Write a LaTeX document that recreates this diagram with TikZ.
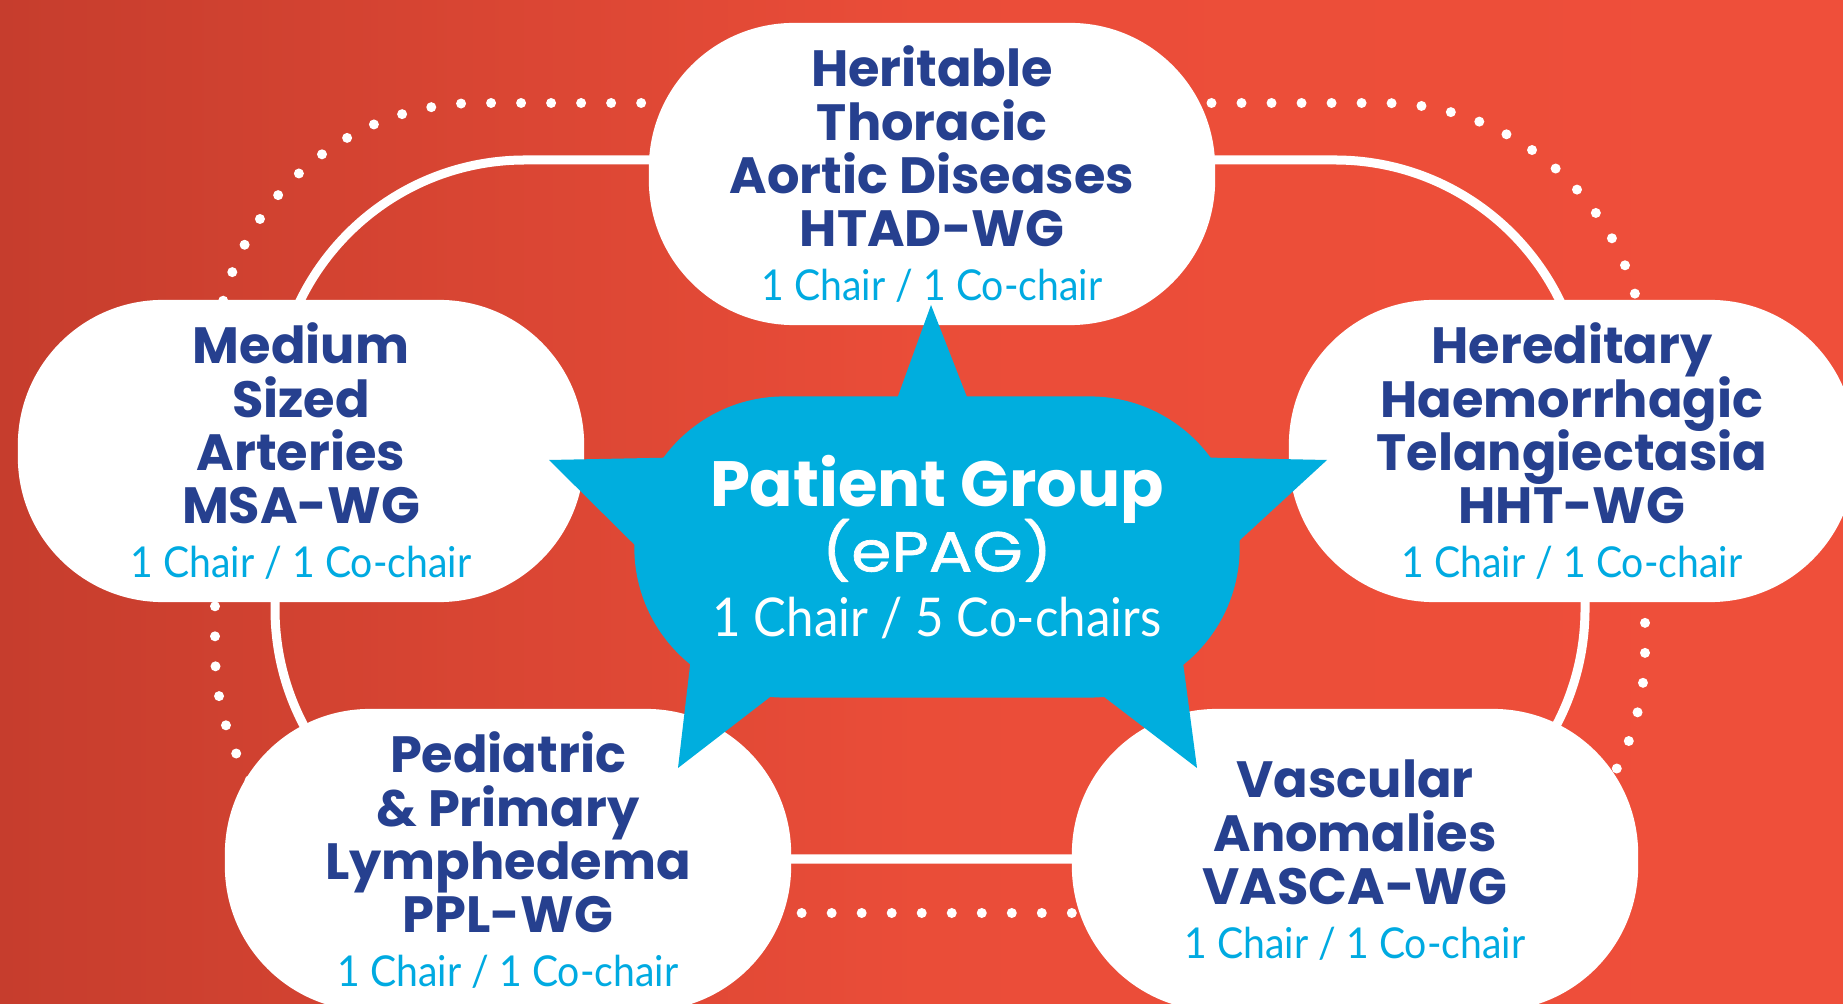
\documentclass[tikz,border=0pt]{standalone}
\usepackage{fontspec}
\setmainfont{Poppins}
\newfontfamily\chairfont[FakeStretch=0.92]{Lato}
\newfontfamily\epagfont[FakeBold=1.2,FakeStretch=1.15]{Poppins}
\definecolor{bgleft}{RGB}{198,61,45}
\definecolor{bgright}{RGB}{239,79,58}
\definecolor{wgnavy}{RGB}{38,64,143}
\definecolor{wgcyan}{RGB}{0,170,225}
\definecolor{hubblue}{RGB}{0,174,222}
\newcommand{\chairs}[1]{{\chairfont\mdseries\fontsize{12.1}{15.2}\selectfont\color{wgcyan}#1}}
\AtBeginDocument{\lineskiplimit=-100pt}
\tikzset{
  wg/.style={fill=white, rounded corners=1.45cm, minimum width=5.66cm,
    minimum height=3.02cm, inner sep=0pt, align=center, text=wgnavy,
    font=\bfseries\fontsize{14.5}{15.2}\selectfont},
  hub/.style={fill=hubblue, rounded corners=1.5cm, minimum width=6.05cm,
    minimum height=3.01cm, inner sep=0pt, align=center, text=white,
    font=\bfseries\fontsize{18.2}{18.4}\selectfont},
  ring/.style={draw=white, line width=0.09cm, rounded corners=2.5cm},
  dots/.style={draw=white, line width=0.1cm, line cap=round,
    dash pattern=on 0pt off 0.3cm, rounded corners=2.63cm},
}
\begin{document}
\begin{tikzpicture}[x=0.01cm,y=-0.01cm]
\useasboundingbox (0,0) rectangle (1843,1004);
\clip (0,0) rectangle (1843,1004);
\shade[left color=bgleft, right color=bgright, middle color=bgright!88!bgleft]
  (0,0) rectangle (1843,1004);
% the two rings behind the working groups
\coordinate (dotsNW) at (215,103);
\coordinate (dotsSE) at (1645,913);
\coordinate (ringNW) at (275,160);
\coordinate (ringSE) at (1585,859);
\draw[dots] (dotsNW) rectangle (dotsSE);
\draw[ring] (ringNW) rectangle (ringSE);
% working groups
\node[wg] (htad) at (932,174) {Heritable\\Thoracic\\Aortic Diseases\\HTAD-WG\\\chairs{1 Chair / 1 Co-chair}};
\node[wg] (msa) at (301,451) {Medium\\Sized\\Arteries\\MSA-WG\\\chairs{1 Chair / 1 Co-chair}};
\node[wg] (hht) at (1572,451) {Hereditary\\Haemorrhagic\\Telangiectasia\\HHT-WG\\\chairs{1 Chair / 1 Co-chair}};
\node[wg] (ppl) at (508,860) {Pediatric\\\& Primary\\Lymphedema\\PPL-WG\\\chairs{1 Chair / 1 Co-chair}};
\node[wg] (vasca) at (1355,860) {Vascular\\Anomalies\\VASCA-WG\\\chairs{1 Chair / 1 Co-chair}};
% spikes of the patient group
\fill[hubblue] (893,410) -- (931,305) -- (972,410) -- cycle;
\fill[hubblue] (549,460) -- (700,457) -- (660,570) -- cycle;
\fill[hubblue] (1327,460) -- (1180,457) -- (1215,563) -- cycle;
\fill[hubblue] (678,768) -- (693,640) -- (796,677) -- cycle;
\fill[hubblue] (1197,768) -- (1180,640) -- (1078,677) -- cycle;
\node[hub] (epag) at (937,547) {Patient Group\\{\epagfont\mdseries\fontsize{16}{18.4}\selectfont (ePAG)}\\{\chairfont\mdseries\fontsize{15.2}{18.4}\selectfont 1 Chair / 5 Co-chairs}};
\end{tikzpicture}
\end{document}
